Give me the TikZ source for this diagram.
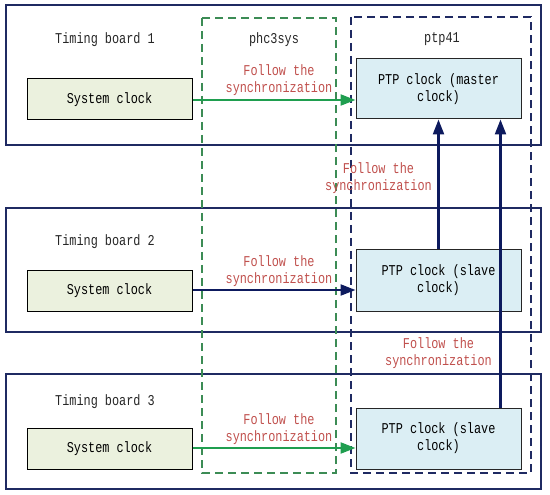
\documentclass[tikz,border=0pt]{standalone}
\usepackage{fontspec}
\setmainfont{Liberation Mono}[FakeStretch=0.79]
\usetikzlibrary{arrows.meta,calc}

\definecolor{boardblue}{HTML}{1F2A62}
\definecolor{arrowblue}{HTML}{0D1A5E}
\definecolor{dashgreen}{HTML}{3C8C55}
\definecolor{arrowgreen}{HTML}{1F9E4F}
\definecolor{sysgreen}{HTML}{EBF1DE}
\definecolor{ptpblue}{HTML}{DBEEF4}
\definecolor{notered}{HTML}{C0504D}

\tikzset{
  board/.style={draw=boardblue, line width=1.3pt},
  group/.style={line width=1.2pt, dash pattern=on 8pt off 5pt},
  sysclk/.style={draw=black, fill=sysgreen, line width=1pt, minimum width=165pt, minimum height=41pt, inner sep=0pt},
  ptpclk/.style={draw=black!85, fill=ptpblue, line width=1pt, minimum width=165pt, inner sep=0pt, align=center},
  title/.style={text=black!85},
  syncnote/.style={text=notered, align=center},
  syncarrow/.style={line width=2.3pt, -{Triangle[length=15pt,width=11pt]}}
}

\begin{document}
\begin{tikzpicture}[x=1pt,y=-1pt,font=\fontsize{15}{17}\selectfont]
\useasboundingbox (0,0) rectangle (550,495);

% timing boards
\draw[board] (6,5) rectangle (541,145);
\draw[board] (6,208) rectangle (541,332);
\draw[board] (6,374) rectangle (541,489);

% software groups
\draw[group, draw=dashgreen] (202,18) rectangle (336,473);
\draw[group, draw=boardblue] (351,17) rectangle (531,473);

\node[title] (tb1) at (105,40) {Timing board 1};
\node[title] (tb2) at (105,242) {Timing board 2};
\node[title] (tb3) at (105,402) {Timing board 3};
\node[title] (phc) at (274,40) {phc3sys};
\node[title] (ptp) at (442,39) {ptp41};

\node[sysclk] (sys1) at (109.5,99.5) {System clock};
\node[sysclk] (sys2) at (109.5,290.5) {System clock};
\node[sysclk] (sys3) at (109.5,448.5) {System clock};

\node[ptpclk, minimum height=60pt] (ptp1) at (438.5,89) {PTP clock (master\\clock)};
\node[ptpclk, minimum height=62pt] (ptp2) at (438.5,280) {PTP clock (slave\\clock)};
\node[ptpclk, minimum height=61pt] (ptp3) at (438.5,438.5) {PTP clock (slave\\clock)};

% synchronization arrows
\coordinate (in1) at (ptp1.west |- 0,100);
\coordinate (in2) at (ptp2.west |- 0,290);
\coordinate (in3) at (ptp3.west |- 0,448);
\draw[syncarrow, draw=arrowgreen, fill=arrowgreen] (sys1.east |- in1) -- (in1);
\draw[syncarrow, draw=arrowblue, fill=arrowblue] (sys2.east |- in2) -- (in2);
\draw[syncarrow, draw=arrowgreen, fill=arrowgreen] (sys3.east |- in3) -- (in3);

\draw[syncarrow, draw=arrowblue, fill=arrowblue] (ptp2.north) -- (ptp1.south);
\draw[syncarrow, draw=arrowblue, fill=arrowblue] ([xshift=62pt]ptp3.north) -- ([xshift=62pt]ptp1.south);

\node[syncnote] (n1) at (279,80) {Follow the\\synchronization};
\node[syncnote] (n2) at (279,271) {Follow the\\synchronization};
\node[syncnote] (n3) at (279,429) {Follow the\\synchronization};
\node[syncnote] (n4) at (378.5,178.5) {Follow the\\synchronization};
\node[syncnote] (n5) at (438.5,353.5) {Follow the\\synchronization};

\end{tikzpicture}
\end{document}
